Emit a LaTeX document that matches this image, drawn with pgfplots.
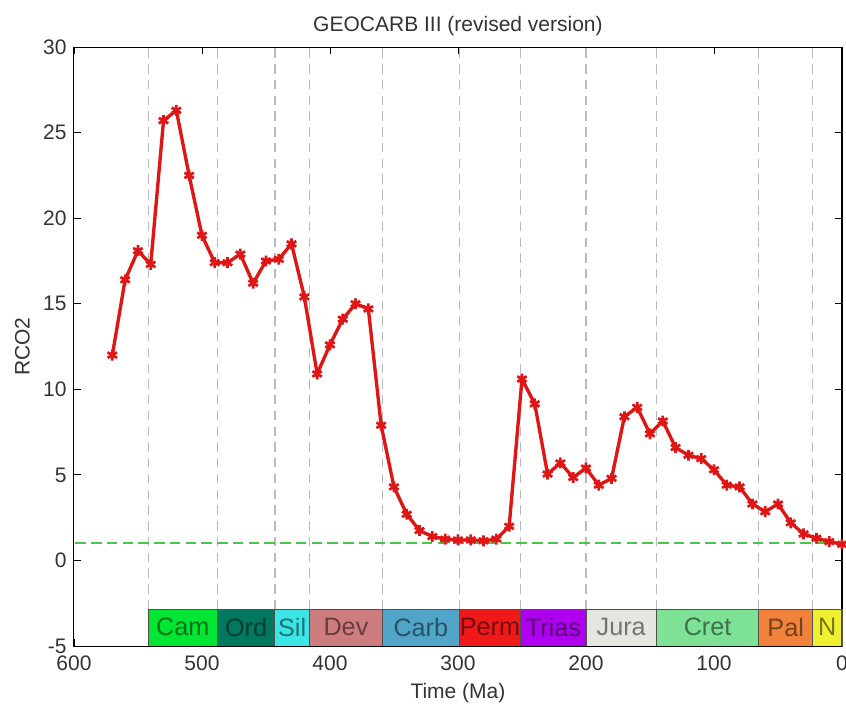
\documentclass[border=0pt]{standalone}
\usepackage{pgfplots}
\pgfplotsset{compat=1.18}
\usepackage{fontspec}
\setmainfont{Liberation Sans}
\definecolor{ln}{RGB}{222,22,22}
\definecolor{vgrid}{RGB}{185,185,192}
\definecolor{gl}{RGB}{70,200,70}
\definecolor{cCam}{RGB}{0,230,50}
\definecolor{cOrd}{RGB}{0,120,95}
\definecolor{cSil}{RGB}{60,230,230}
\definecolor{cDev}{RGB}{205,125,125}
\definecolor{cCarb}{RGB}{80,165,200}
\definecolor{cPerm}{RGB}{240,25,25}
\definecolor{cTrias}{RGB}{175,0,240}
\definecolor{cJura}{RGB}{230,230,225}
\definecolor{cCret}{RGB}{125,225,150}
\definecolor{cPal}{RGB}{240,130,60}
\definecolor{cN}{RGB}{240,240,50}
\definecolor{bord}{RGB}{80,80,80}
\pgfplotstableread{
t r
570 12.0
560 16.4
550 18.1
540 17.3
530 25.7
520 26.3
510 22.5
500 19.0
490 17.4
480 17.4
470 17.9
460 16.2
450 17.5
440 17.6
430 18.5
420 15.4
410 10.9
400 12.6
390 14.1
380 15.0
370 14.7
360 7.9
350 4.3
340 2.7
330 1.75
320 1.4
310 1.25
300 1.2
290 1.2
280 1.15
270 1.25
260 2.0
250 10.6
240 9.15
230 5.05
220 5.7
210 4.85
200 5.4
190 4.4
180 4.8
170 8.4
160 8.95
150 7.4
140 8.15
130 6.6
120 6.15
110 5.95
100 5.3
90 4.4
80 4.3
70 3.3
60 2.85
50 3.3
40 2.2
30 1.55
20 1.3
10 1.1
0 0.95
}\rco
\begin{document}
\begin{tikzpicture}
\begin{axis}[
  width=365.7pt, height=285.2pt, scale only axis,
  xmin=0, xmax=600, ymin=-5, ymax=30,
  x dir=reverse,
  xtick={0,100,...,600}, ytick={-5,0,...,30},
  tick align=inside, major tick length=3.3pt,
  tick style={black, line width=0.4pt},
  axis line style={black, line width=0.5pt},
  /pgf/number format/assume math mode=true,
  ticklabel style={font=\fontsize{10}{12}\selectfont, text=black!80},
  xticklabel style={yshift=-1pt},
  title={GEOCARB III (revised version)},
  title style={at={(axis description cs:0.5,1)}, anchor=base, yshift=1.5pt, font=\fontsize{10}{12}\selectfont, text=black!80},
  xlabel={Time (Ma)},
  xlabel style={at={(axis description cs:0.5,0)}, anchor=base, yshift=-25.2pt, font=\fontsize{10}{12}\selectfont, text=black!80},
  ylabel={RCO2},
  ylabel style={at={(axis description cs:-0.0577,0.5)}, anchor=base, font=\fontsize{10}{12}\selectfont, text=black!80},
  clip=false,
]
\coordinate (ll) at (axis cs:600,-5);
\coordinate (ur) at (axis cs:0,30);
% vertical period boundaries
\pgfplotsinvokeforeach{542,488,443,416,359,299,251,200,145,65,23}{
  \addplot[vgrid, line width=0.6pt, dash pattern=on 4.5pt off 3pt, forget plot, mark=none] coordinates {(#1,-2.85) (#1,30)};
}
\addplot[gl, line width=0.95pt, dash pattern=on 5pt off 2.5pt, forget plot, mark=none] coordinates {(0,1) (600,1)};
\addplot[ln, line width=1.6pt, mark=asterisk, mark size=2.6pt, mark options={solid, draw=ln, fill=ln, line width=1.3pt}] table[x=t, y=r] {\rco};
% period boxes
\newcommand\per[4]{%
  \filldraw[fill=#3, draw=bord, line width=0.5pt] (axis cs:#1,-5) rectangle (axis cs:#2,-2.85);
  \node[font=\fontsize{12}{14}\selectfont, text=#3!50!black, inner sep=0pt] at (axis cs:{(#1+#2)/2},-3.9) {#4};
}
\per{542}{488}{cCam}{Cam}
\per{488}{443}{cOrd}{Ord}
\per{443}{416}{cSil}{Sil}
\per{416}{359}{cDev}{Dev}
\per{359}{299}{cCarb}{Carb}
\per{299}{251}{cPerm}{Perm}
\per{251}{200}{cTrias}{Trias}
\per{200}{145}{cJura}{Jura}
\per{145}{65}{cCret}{Cret}
\per{65}{23}{cPal}{Pal}
\per{23}{0}{cN}{N}
\draw[black, line width=0.5pt] (axis cs:600,-5) -- (axis cs:0,-5);
\end{axis}
\pgfresetboundingbox
\path ([xshift=-35.2pt,yshift=-32.4pt]ll) rectangle ([xshift=1.9pt,yshift=22.4pt]ur);
\end{tikzpicture}
\end{document}
